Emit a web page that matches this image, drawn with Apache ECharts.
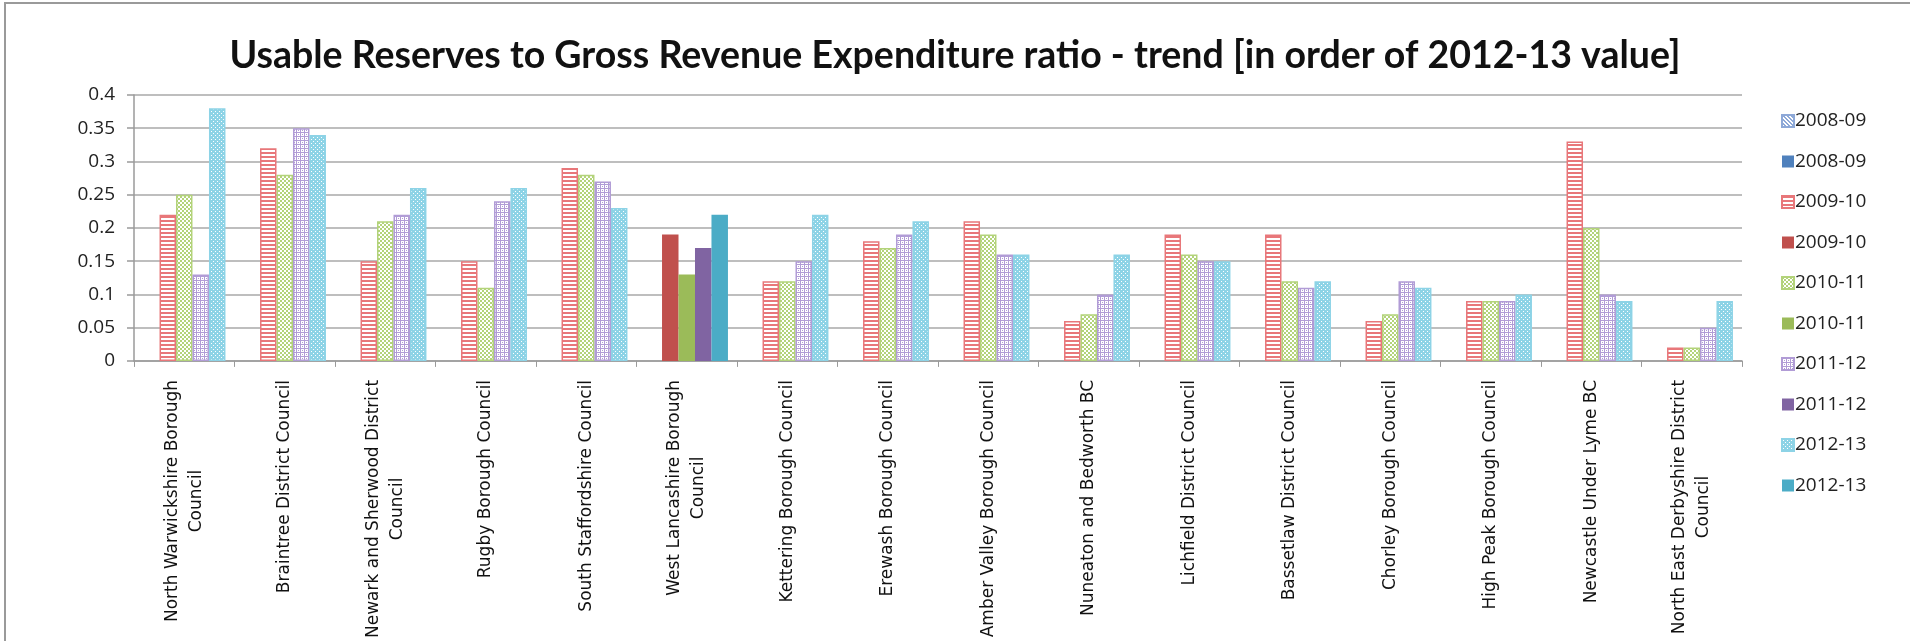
<!DOCTYPE html>
<html>
<head>
<meta charset="utf-8">
<script src="https://cdn.jsdelivr.net/npm/echarts@6/dist/echarts.min.js"></script>
<style>
html,body{margin:0;padding:0;background:#fff;}
#chart{width:1910px;height:641px;}
</style>
</head>
<body>
<div id="chart"></div>
<script>
const categories = [
  "North Warwickshire Borough Council",
  "Braintree District Council",
  "Newark and Sherwood District Council",
  "Rugby Borough Council",
  "South Staffordshire Council",
  "West Lancashire Borough Council",
  "Kettering Borough Council",
  "Erewash Borough Council",
  "Amber Valley Borough Council",
  "Nuneaton and Bedworth BC",
  "Lichfield District Council",
  "Bassetlaw District Council",
  "Chorley Borough Council",
  "High Peak Borough Council",
  "Newcastle Under Lyme BC",
  "North East Derbyshire District Council"
];
const years = ["2008-09", "2009-10", "2010-11", "2011-12", "2012-13"];
// patterned series (all councils except West Lancashire)
const p2008_09 = [null,null,null,null,null,null,null,null,null,null,null,null,null,null,null,null];
const p2009_10 = [0.22,0.32,0.15,0.15,0.29,null,0.12,0.18,0.21,0.06,0.19,0.19,0.06,0.09,0.33,0.02];
const p2010_11 = [0.25,0.28,0.21,0.11,0.28,null,0.12,0.17,0.19,0.07,0.16,0.12,0.07,0.09,0.20,0.02];
const p2011_12 = [0.13,0.35,0.22,0.24,0.27,null,0.15,0.19,0.16,0.10,0.15,0.11,0.12,0.09,0.10,0.05];
const p2012_13 = [0.38,0.34,0.26,0.26,0.23,null,0.22,0.21,0.16,0.16,0.15,0.12,0.11,0.10,0.09,0.09];
// solid series (West Lancashire only)
const s2008_09 = [null,null,null,null,null,null,null,null,null,null,null,null,null,null,null,null];
const s2009_10 = [null,null,null,null,null,0.19,null,null,null,null,null,null,null,null,null,null];
const s2010_11 = [null,null,null,null,null,0.13,null,null,null,null,null,null,null,null,null,null];
const s2011_12 = [null,null,null,null,null,0.17,null,null,null,null,null,null,null,null,null,null];
const s2012_13 = [null,null,null,null,null,0.22,null,null,null,null,null,null,null,null,null,null];
const yTicks = [0,0.05,0.1,0.15,0.2,0.25,0.3,0.35,0.4];

const patternData = [p2008_09, p2009_10, p2010_11, p2011_12, p2012_13];
const solidData = [s2008_09, s2009_10, s2010_11, s2011_12, s2012_13];
const patternFg = ['#8EA9D8', '#E8777A', '#B3D37A', '#B19CD6', '#8DD3E6'];
const solidColors = ['#4F81BD', '#C0504D', '#9BBB59', '#8064A2', '#4BACC6'];
const patternTypes = ['diag', 'hline', 'checker', 'grid', 'dots'];

function makePattern(fg, type) {
  const c = document.createElement('canvas');
  const n = 4;
  c.width = n; c.height = n;
  const g = c.getContext('2d');
  g.fillStyle = '#ffffff';
  g.fillRect(0, 0, n, n);
  g.fillStyle = fg;
  if (type === 'hline') {
    g.fillRect(0, 0, n, 2);
  } else if (type === 'checker') {
    g.fillRect(0, 0, 2, 2);
    g.fillRect(2, 2, 2, 2);
  } else if (type === 'grid') {
    g.fillRect(0, 0, n, 1);
    g.fillRect(0, 0, 1, n);
    g.fillRect(2, 2, 1, 1);
  } else if (type === 'dots') {
    g.fillRect(0, 0, n, n);
    g.fillStyle = '#ffffff';
    g.fillRect(1, 1, 1, 1);
    g.fillRect(3, 3, 1, 1);
  } else if (type === 'diag') {
    for (let i = 0; i < n; i++) { g.fillRect(i, i, 1, 1); g.fillRect((i + 1) % n, i, 1, 1); }
  }
  return c;
}

// word wrap for category labels
const labelFont = '17px "DejaVu Sans"';
const labelMaxWidth = 270;
const measureCtx = document.createElement('canvas').getContext('2d');
measureCtx.font = labelFont;
function wrapLabel(text) {
  const words = text.split(' ');
  const lines = [];
  let cur = '';
  for (const w of words) {
    const t = cur ? cur + ' ' + w : w;
    if (cur && measureCtx.measureText(t).width > labelMaxWidth) {
      lines.push(cur);
      cur = w;
    } else {
      cur = t;
    }
  }
  if (cur) lines.push(cur);
  return lines.map(l => '{c|' + l + '}').join('\n');
}

const series = [];
for (let i = 0; i < years.length; i++) {
  series.push({
    name: years[i],
    type: 'bar',
    xAxisIndex: 0,
    data: patternData[i],
    barGap: '0%',
    barCategoryGap: '18%',
    itemStyle: {
      color: { image: makePattern(patternFg[i], patternTypes[i]), repeat: 'repeat' },
      borderColor: patternFg[i],
      borderWidth: 1.5
    }
  });
  series.push({
    name: years[i] + ' ',
    type: 'bar',
    xAxisIndex: 1,
    data: solidData[i],
    barGap: '0%',
    barCategoryGap: '18%',
    itemStyle: { color: solidColors[i] }
  });
}

const chart = echarts.init(document.getElementById('chart'));
chart.setOption({
  animation: false,
  backgroundColor: '#ffffff',
  graphic: [{
    type: 'rect',
    shape: { x: 5, y: 3, width: 1920, height: 660 },
    style: { fill: 'none', stroke: '#9a9a9a', lineWidth: 2 }
  }],
  title: {
    text: 'Usable Reserves to Gross Revenue Expenditure ratio - trend [in order of 2012-13 value]',
    left: 'center',
    top: 32,
    textStyle: { fontFamily: 'Lato, "Liberation Sans", sans-serif', fontSize: 37.5, fontWeight: 'bold', color: '#111' }
  },
  legend: {
    orient: 'vertical',
    left: 1776,
    top: 106,
    itemWidth: 12,
    itemHeight: 12,
    itemGap: 20.5,
    icon: 'rect',
    textStyle: { fontFamily: '"Open Sans", sans-serif', fontSize: 19, lineHeight: 20, color: '#222', padding: [0,0,0,-4] },
    data: series.map(s => s.name)
  },
  grid: { left: 134, right: 168, top: 95, bottom: 280 },
  xAxis: [{
    type: 'category',
    data: categories,
    offset: 5,
    axisLine: { show: true, lineStyle: { color: '#9a9a9a', width: 1.5 } },
    axisTick: { show: true, length: 6, lineStyle: { color: '#9a9a9a' } },
    axisLabel: {
      rotate: 90,
      interval: 0,
      margin: 14,
      formatter: wrapLabel,
      fontFamily: '"DejaVu Sans", sans-serif',
      fontSize: 17,
      lineHeight: 24,
      color: '#111',
      rich: { c: { align: 'center', fontFamily: '"DejaVu Sans", sans-serif', fontSize: 17, lineHeight: 24, color: '#111' } }
    }
  }, {
    type: 'category',
    data: categories,
    show: false
  }],
  yAxis: {
    type: 'value',
    min: yTicks[0],
    max: yTicks[yTicks.length - 1],
    interval: 0.05,
    axisLine: { show: true, lineStyle: { color: '#9a9a9a', width: 1.5 } },
    axisTick: { show: true, length: 7, lineStyle: { color: '#9a9a9a', width: 1.5 } },
    axisLabel: { fontFamily: '"Open Sans", sans-serif', fontSize: 19, color: '#222', margin: 19 },
    splitLine: { lineStyle: { color: '#a8a8a8', width: 1.5 } }
  },
  series: series
});
</script>
</body>
</html>
